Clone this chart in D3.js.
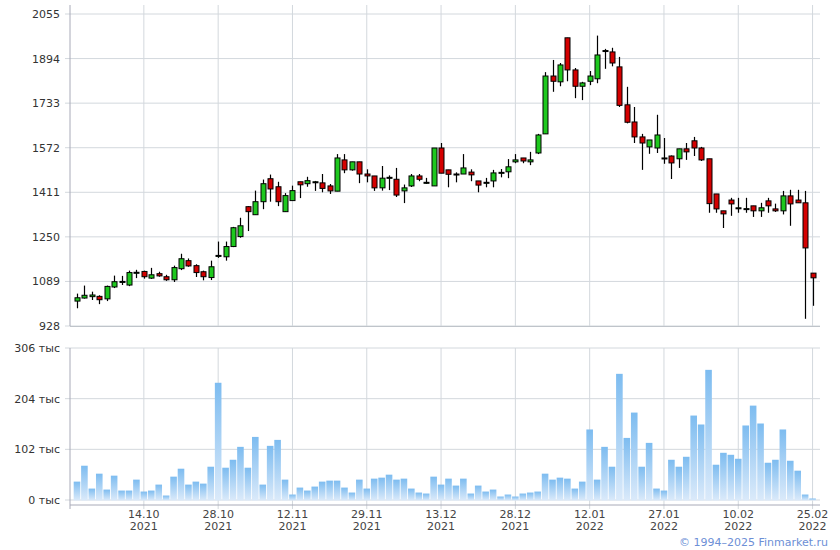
<!DOCTYPE html>
<html><head><meta charset="utf-8">
<script src="https://cdn.jsdelivr.net/npm/d3@7"></script>
<style>body{margin:0;background:#fff}svg{font-family:Tahoma,"DejaVu Sans",sans-serif}</style>
</head><body><svg id="c" width="840" height="550"></svg>
<script>
const opens=[1018,1029,1034,1035,1026,1069,1088,1076,1121,1125,1101,1117,1106,1095,1135,1164,1146,1124,1103,1181,1178,1215,1251,1359,1330,1377,1460,1431,1341,1381,1449,1442,1449,1445,1434,1415,1528,1492,1521,1477,1470,1427,1464,1458,1416,1434,1470,1446,1434,1571,1492,1476,1477,1484,1452,1446,1452,1482,1485,1521,1535,1521,1553,1622,1831,1810,1969,1853,1794,1812,1821,1922,1918,1864,1727,1665,1611,1575,1571,1533,1542,1532,1568,1597,1571,1532,1405,1344,1383,1354,1351,1362,1344,1380,1351,1344,1398,1383,1373,1119];
const closes=[1030,1039,1040,1023,1071,1088,1089,1121,1122,1106,1113,1109,1095,1139,1171,1145,1121,1106,1142,1183,1215,1283,1290,1341,1377,1442,1423,1377,1399,1417,1438,1453,1449,1425,1416,1535,1492,1521,1477,1470,1427,1462,1465,1401,1427,1470,1458,1447,1571,1480,1476,1477,1499,1474,1437,1447,1481,1483,1503,1528,1524,1528,1618,1831,1812,1871,1853,1794,1806,1831,1907,1923,1878,1725,1664,1611,1589,1600,1618,1535,1517,1568,1557,1571,1528,1370,1351,1333,1369,1355,1352,1344,1355,1362,1344,1398,1369,1373,1210,1102];
const highs=[1045,1074,1052,1039,1074,1110,1109,1128,1131,1128,1138,1124,1113,1146,1189,1172,1151,1128,1164,1233,1233,1286,1319,1361,1417,1457,1475,1449,1408,1435,1449,1467,1452,1477,1441,1549,1549,1521,1521,1494,1470,1506,1472,1499,1439,1477,1477,1463,1571,1589,1492,1483,1549,1494,1452,1463,1492,1495,1531,1549,1535,1557,1622,1845,1889,1878,1969,1860,1810,1849,1977,1929,1933,1900,1792,1719,1622,1600,1691,1607,1544,1568,1589,1611,1575,1532,1405,1344,1391,1391,1391,1362,1373,1391,1370,1416,1420,1420,1416,1119];
const lows=[992,1027,1022,1007,1018,1065,1076,1072,1101,1099,1098,1106,1091,1087,1130,1142,1105,1093,1094,1174,1164,1213,1247,1271,1330,1350,1377,1361,1341,1381,1390,1431,1416,1411,1405,1415,1480,1489,1444,1447,1416,1417,1419,1394,1372,1430,1451,1441,1434,1480,1429,1447,1477,1451,1411,1429,1429,1465,1462,1516,1516,1509,1549,1622,1774,1794,1812,1751,1744,1798,1805,1857,1866,1719,1660,1589,1492,1550,1553,1514,1459,1499,1528,1542,1524,1337,1337,1282,1326,1337,1337,1322,1322,1337,1340,1331,1290,1373,954,1001];
const volumes=[37,69,23,53,21,49,19,19,41,17,19,31,9,47,63,31,37,33,67,236,65,81,107,65,127,31,109,121,41,11,25,19,27,37,39,39,25,15,41,23,43,45,51,41,43,23,15,13,47,31,43,29,43,13,29,17,21,7,11,7,13,15,17,53,41,45,43,23,37,142,41,107,67,254,125,176,67,115,23,19,81,67,87,170,152,262,71,95,91,83,150,190,154,75,81,142,79,59,11,3];
const tickIdx=[9,19,29,39,49,59,69,79,89,99];
const tickDates=["14.10","28.10","12.11","29.11","13.12","28.12","12.01","27.01","10.02","25.02"];
const tickYears=["2021","2021","2021","2021","2021","2021","2022","2022","2022","2022"];
const priceTicks=[928,1089,1250,1411,1572,1733,1894,2055];
const volTicks=[0,102,204,306];

const svg=d3.select("#c");
const L=70,R=820;
const x=d3.scaleLinear().domain([-0.94,100.0]).range([L,R]);
const y=d3.scaleLinear().domain([928,2055]).range([326,14]);
const yv=d3.scaleLinear().domain([0,306]).range([500,348]);
const grid="#d3d8dd";
const defs=svg.append("defs");
const g=defs.append("linearGradient").attr("id","vg").attr("x1",0).attr("y1",0).attr("x2",0).attr("y2",1);
g.append("stop").attr("offset","0%").attr("stop-color","#7dbcf0");
g.append("stop").attr("offset","100%").attr("stop-color","#dbeafa");
// grids
priceTicks.forEach(t=>svg.append("line").attr("x1",L-5).attr("x2",R).attr("y1",y(t)).attr("y2",y(t)).attr("stroke",grid));
volTicks.forEach(t=>svg.append("line").attr("x1",L-5).attr("x2",R).attr("y1",yv(t)).attr("y2",yv(t)).attr("stroke",grid));
tickIdx.forEach(i=>{
  svg.append("line").attr("x1",x(i)).attr("x2",x(i)).attr("y1",5).attr("y2",326).attr("stroke",grid);
  svg.append("line").attr("x1",x(i)).attr("x2",x(i)).attr("y1",348).attr("y2",509).attr("stroke",grid);
});
svg.append("line").attr("x1",L).attr("x2",L).attr("y1",5).attr("y2",326).attr("stroke","#a8aab8");
svg.append("line").attr("x1",L).attr("x2",L).attr("y1",348).attr("y2",509).attr("stroke","#a8aab8");
svg.append("line").attr("x1",L).attr("x2",R).attr("y1",326.5).attr("y2",326.5).attr("stroke","#bfc4ca");
svg.append("line").attr("x1",L).attr("x2",R).attr("y1",505).attr("y2",505).attr("stroke","#a8aab8");
priceTicks.forEach(t=>svg.append("text").attr("x",60).attr("y",y(t)+4).attr("text-anchor","end").attr("font-size",11).attr("fill","#333").text(t));
volTicks.forEach(t=>svg.append("text").attr("x",60).attr("y",yv(t)+4).attr("text-anchor","end").attr("font-size",11).attr("fill","#333").text(t+" тыс"));
tickIdx.forEach((i,k)=>{
  svg.append("text").attr("x",x(i)).attr("y",518).attr("text-anchor","middle").attr("font-size",11).attr("fill","#444").text(tickDates[k]);
  svg.append("text").attr("x",x(i)).attr("y",530).attr("text-anchor","middle").attr("font-size",11).attr("fill","#444").text(tickYears[k]);
});
// volume
svg.append("g").selectAll("rect").data(volumes).join("rect")
 .attr("x",(d,i)=>x(i)-3.3).attr("width",6.6).attr("y",d=>yv(d)).attr("height",d=>yv(0)-yv(d)+0.5).attr("fill","url(#vg)");
// candles
const idx=d3.range(opens.length);
const cg=svg.append("g");
cg.selectAll("line").data(idx).join("line")
 .attr("x1",i=>Math.round(x(i))+0.5).attr("x2",i=>Math.round(x(i))+0.5).attr("y1",i=>y(highs[i])).attr("y2",i=>y(lows[i])).attr("stroke","#000").attr("stroke-width",1.2);
cg.selectAll("rect").data(idx).join("rect")
 .attr("x",i=>Math.round(x(i))-2).attr("width",5)
 .attr("y",i=>y(Math.max(opens[i],closes[i])))
 .attr("height",i=>Math.max(1,Math.abs(y(opens[i])-y(closes[i]))))
 .attr("fill",i=>closes[i]>=opens[i]?"#1ec81e":"#d40000").attr("stroke","#000").attr("stroke-width",1);
svg.append("text").attr("x",828).attr("y",546).attr("text-anchor","end").attr("font-size",11).attr("fill","#6d8fd6").text("© 1994–2025 Finmarket.ru");
</script></body></html>
